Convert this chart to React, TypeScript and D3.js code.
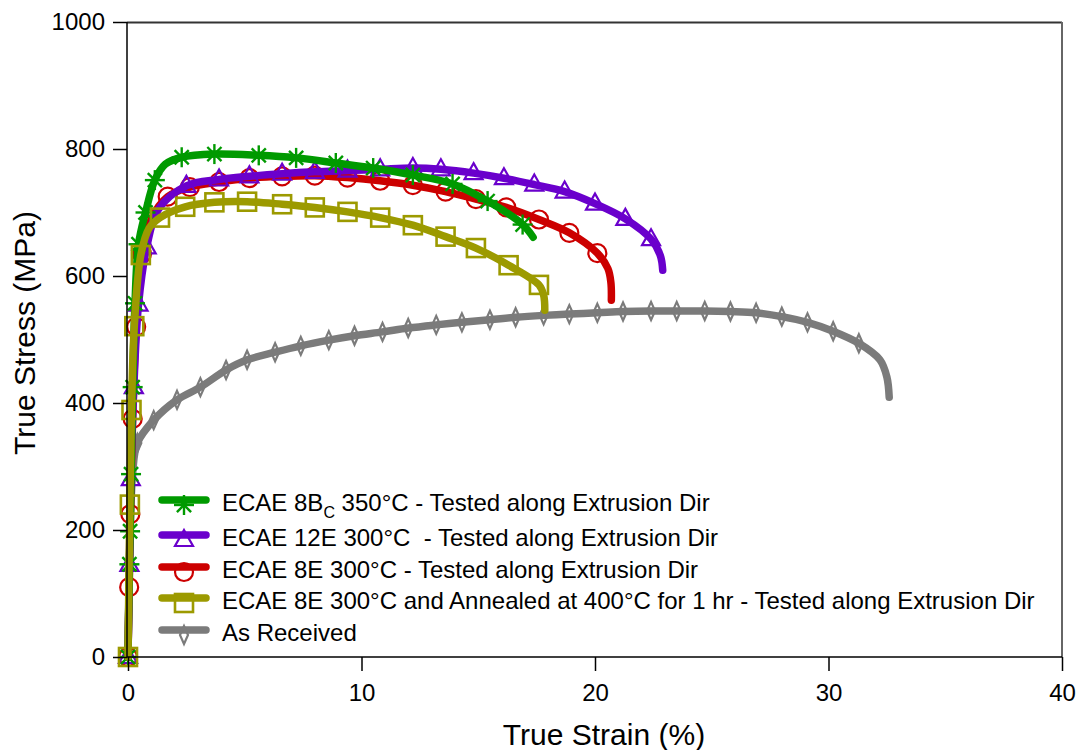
import { useEffect, useRef } from 'react';
import * as d3 from 'd3';

// [strain %, stress MPa, marker?]
type Pt = [number, number, number];

const ecae8bc350: Pt[] = [
  [0, 0, 1], [0.06, 146, 1], [0.09, 198, 1], [0.13, 288, 1], [0.2, 425, 1], [0.3, 557, 1],
  [0.45, 650, 1], [0.75, 700, 1], [1.15, 751, 1], [1.6, 776, 0], [2.3, 787, 1], [3.7, 792, 1],
  [5.6, 790, 1], [7.2, 786, 1], [8.9, 778, 1], [10.5, 770, 1], [12.2, 759, 1], [13.9, 745, 1],
  [15.4, 718, 1], [16.9, 681, 1], [17.35, 661, 0],
];
const ecae12e300: Pt[] = [
  [0, 0, 1], [0.06, 145, 1], [0.12, 280, 1], [0.25, 425, 1], [0.45, 555, 1], [0.8, 645, 1],
  [1.3, 705, 0], [2.5, 742, 1], [3.9, 752, 1], [5.2, 757, 1], [6.6, 761, 1], [8, 764, 1],
  [9.4, 766, 1], [10.8, 768, 1], [12.2, 770, 1], [13.4, 768, 1], [14.8, 762, 1], [16.1, 754, 1],
  [17.4, 744, 1], [18.7, 733, 1], [20, 714, 1], [21.3, 690, 1], [22.4, 658, 1], [22.8, 632, 0],
  [22.9, 609, 0],
];
const ecae8e300: Pt[] = [
  [0, 0, 1], [0.05, 110, 1], [0.1, 225, 1], [0.2, 375, 1], [0.35, 520, 1], [0.6, 635, 1],
  [1.0, 690, 0], [1.7, 725, 1], [2.65, 740, 1], [3.9, 748, 1], [5.2, 754, 1], [6.6, 757, 1],
  [8, 758, 1], [9.4, 755, 1], [10.8, 750, 1], [12.2, 743, 1], [13.6, 733, 1], [14.9, 721, 1],
  [16.2, 708, 1], [17.6, 689, 1], [18.9, 668, 1], [20.1, 636, 1], [20.55, 612, 0], [20.68, 590, 0],
  [20.7, 562, 0],
];
const ecae8eAnnealed: Pt[] = [
  [0, 0, 1], [0.08, 240, 1], [0.15, 389, 1], [0.27, 521, 1], [0.55, 633, 1], [0.9, 675, 0],
  [1.37, 692, 1], [2.45, 709, 1], [3.7, 716, 1], [5.1, 717, 1], [6.6, 713, 1], [8.0, 708, 1],
  [9.4, 701, 1], [10.8, 692, 1], [12.2, 680, 1], [13.6, 662, 1], [14.9, 644, 1], [16.3, 617, 1],
  [17.6, 586, 1], [17.8, 570, 0], [17.85, 546, 0],
];
const asReceived: Pt[] = [
  [0, 0, 0], [0.1, 200, 0], [0.2, 290, 0], [0.4, 337, 1], [1.1, 373, 1], [2.1, 405, 1],
  [3.1, 425, 1], [4.2, 452, 1], [5.1, 468, 1], [6.3, 480, 1], [7.4, 490, 1], [8.6, 499, 1],
  [9.7, 506, 1], [10.9, 512, 1], [12.0, 518, 1], [13.2, 523, 1], [14.3, 527, 1], [15.5, 531, 1],
  [16.6, 535, 1], [17.8, 538, 1], [18.9, 540, 1], [20.1, 542, 1], [21.2, 544, 1], [22.4, 545, 1],
  [23.5, 545, 1], [24.7, 545, 1], [25.8, 544, 1], [26.9, 542, 1], [28.0, 536, 1], [29.1, 527, 1],
  [30.2, 513, 1], [31.3, 494, 1], [32.2, 468, 0], [32.5, 441, 0], [32.6, 409, 0],
];

const xTicks = [0, 10, 20, 30, 40];
const yTicks = [0, 200, 400, 600, 800, 1000];

const series = [
  { key: 'bc', label: 'ECAE 8B', sub: 'C', rest: ' 350°C - Tested along Extrusion Dir', color: '#009a00', marker: 'star', data: ecae8bc350 },
  { key: '12e', label: 'ECAE 12E 300°C  - Tested along Extrusion Dir', color: '#6a00cc', marker: 'tri', data: ecae12e300 },
  { key: '8e', label: 'ECAE 8E 300°C - Tested along Extrusion Dir', color: '#cc0000', marker: 'circle', data: ecae8e300 },
  { key: 'ann', label: 'ECAE 8E 300°C and Annealed at 400°C for 1 hr - Tested along Extrusion Dir', color: '#9c9a00', marker: 'square', data: ecae8eAnnealed },
  { key: 'ar', label: 'As Received', color: '#7b7b7b', marker: 'diamond', data: asReceived },
];
// drawing order (later on top)
const drawOrder = ['ar', '8e', '12e', 'bc', 'ann'];

const FONT = 'Arial, "Liberation Sans", sans-serif';

function drawMarker(g: d3.Selection<SVGGElement, unknown, null, undefined>, kind: string, x: number, y: number, color: string) {
  if (kind === 'star') {
    const r = 10;
    const p = g.append('g').attr('transform', `translate(${x},${y})`).attr('stroke', color).attr('stroke-width', 2.4);
    [0, 45, 90, 135].forEach(a => {
      const rad = (a * Math.PI) / 180;
      p.append('line').attr('x1', -r * Math.cos(rad)).attr('y1', -r * Math.sin(rad)).attr('x2', r * Math.cos(rad)).attr('y2', r * Math.sin(rad));
    });
  } else if (kind === 'tri') {
    g.append('path').attr('d', `M${x},${y - 10}L${x + 9},${y + 6}L${x - 9},${y + 6}Z`)
      .attr('fill', 'none').attr('stroke', color).attr('stroke-width', 2.2);
  } else if (kind === 'circle') {
    g.append('circle').attr('cx', x).attr('cy', y).attr('r', 9)
      .attr('fill', 'none').attr('stroke', color).attr('stroke-width', 2.2);
  } else if (kind === 'square') {
    g.append('rect').attr('x', x - 9).attr('y', y - 9).attr('width', 18).attr('height', 18)
      .attr('fill', 'none').attr('stroke', color).attr('stroke-width', 2.6);
  } else {
    g.append('path').attr('d', `M${x},${y - 9}L${x + 4},${y}L${x},${y + 9}L${x - 4},${y}Z`)
      .attr('fill', 'none').attr('stroke', color).attr('stroke-width', 2.2);
  }
}

export default function App() {
  const svgRef = useRef<SVGSVGElement>(null);

  useEffect(() => {
    const W = 1080, H = 750;
    const svg = d3.select(svgRef.current);
    svg.selectAll('*').remove();
    svg.attr('width', W).attr('height', H);

    const x = d3.scaleLinear().domain([0, 40]).range([128, 1062]);
    const y = d3.scaleLinear().domain([0, 1000]).range([657, 22]);

    const g = svg.append('g');
    g.append('rect').attr('width', W).attr('height', H).attr('fill', 'white');

    // frame (top/right)
    g.append('line').attr('x1', 127).attr('x2', 1062).attr('y1', 22.5).attr('y2', 22.5).attr('stroke', '#333').attr('stroke-width', 2);
    g.append('line').attr('x1', 1062).attr('x2', 1062).attr('y1', 22).attr('y2', 657).attr('stroke', '#666').attr('stroke-width', 2);

    // curves
    const line = d3.line<Pt>().x(d => x(d[0])).y(d => y(d[1])).curve(d3.curveCatmullRom.alpha(0.5));
    drawOrder.forEach(k => {
      const s = series.find(v => v.key === k)!;
      const sg = g.append('g');
      sg.append('path').attr('d', line(s.data)).attr('fill', 'none').attr('stroke', s.color)
        .attr('stroke-width', 7.5).attr('stroke-linecap', 'round').attr('stroke-linejoin', 'round');
      s.data.filter(d => d[2]).forEach(d => drawMarker(sg, s.marker, x(d[0]), y(d[1]), s.color));
    });

    // axes
    const xAxis = g.append('g').attr('transform', 'translate(0,657)')
      .call(d3.axisBottom(x).tickValues(xTicks).tickSize(14).tickPadding(13).tickFormat(d3.format('d')));
    const yAxis = g.append('g').attr('transform', 'translate(127,0)')
      .call(d3.axisLeft(y).tickValues(yTicks).tickSize(14).tickPadding(8).tickFormat(d3.format('d')));
    [xAxis, yAxis].forEach(ax => {
      ax.select('.domain').attr('stroke', '#000').attr('stroke-width', 1.5);
      ax.selectAll('.tick line').attr('stroke', '#000').attr('stroke-width', 1.5);
      ax.selectAll('.tick text').attr('fill', '#000').attr('font-size', 24).attr('font-family', FONT);
    });
    xAxis.select('.domain').attr('d', 'M127,0H1062');
    yAxis.select('.domain').attr('d', 'M0,22V657');

    // axis titles
    g.append('text').attr('x', 604).attr('y', 745).attr('text-anchor', 'middle')
      .attr('font-family', FONT).attr('font-size', 30).text('True Strain (%)');
    g.append('text').attr('transform', 'translate(35,333) rotate(-90)').attr('text-anchor', 'middle')
      .attr('font-family', FONT).attr('font-size', 30).text('True Stress (MPa)');

    // legend
    const rows = [500, 535, 567, 598, 630];
    series.forEach((s, i) => {
      const ly = rows[i];
      const lg = g.append('g');
      lg.append('line').attr('x1', 162).attr('x2', 206).attr('y1', ly).attr('y2', ly)
        .attr('stroke', s.color).attr('stroke-width', 7.5).attr('stroke-linecap', 'round');
      drawMarker(lg, s.marker, 184, ly + 5, s.color);
      const t = lg.append('text').attr('x', 222).attr('y', ly + 11).attr('font-family', FONT).attr('font-size', 24)
        .attr('fill', '#000').style('white-space', 'pre');
      if (s.sub) {
        t.append('tspan').text(s.label);
        t.append('tspan').attr('font-size', 16).attr('dy', 7).text(s.sub);
        t.append('tspan').attr('dy', -7).text(s.rest!);
      } else {
        t.text(s.label);
      }
    });
  }, []);

  return <svg ref={svgRef} style={{ position: 'absolute', left: 0, top: 0, display: 'block' }} />;
}
